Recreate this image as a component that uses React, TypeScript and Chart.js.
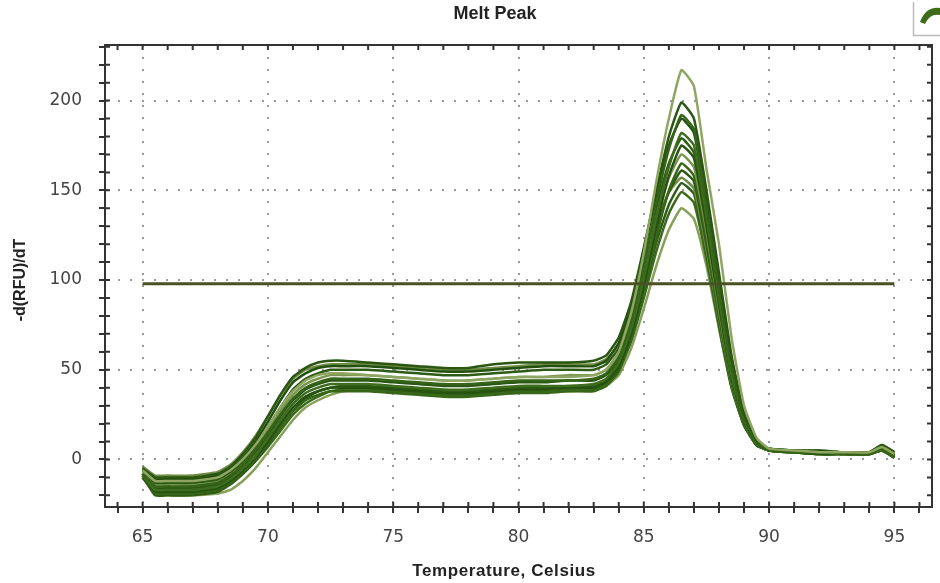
import React, { useEffect, useRef } from "react";
import { Chart, registerables } from "chart.js";

Chart.register(...registerables);

// Temperatures (°C) at which the melt-peak curves are sampled
const temperatures = [65, 65.5, 66, 67, 68, 68.5, 69, 69.5, 70, 70.5, 71, 71.5, 72, 72.5, 73, 74, 75, 76, 77, 78, 79, 80, 81, 82, 83, 83.5, 84, 84.5, 85, 85.5, 86, 86.5, 87, 87.5, 88, 88.5, 89, 89.5, 90, 91, 92, 93, 94, 94.5, 95];

// -d(RFU)/dT for each well
const wellA = [-6, -12, -12, -12, -10, -6, 0, 8, 18, 29, 38, 44, 47, 48, 48, 47, 46, 45, 44, 44, 45, 46, 46, 46, 47, 50, 60, 82, 115, 155, 190, 217, 208, 162, 120, 68, 30, 12, 6, 5, 4, 4, 4, 7, 3];
const wellB = [-5, -10, -10, -10, -8, -4, 3, 12, 24, 36, 46, 51, 54, 55, 55, 54, 53, 52, 51, 51, 53, 54, 54, 54, 55, 58, 68, 88, 118, 150, 180, 199, 190, 150, 104, 58, 26, 11, 6, 5, 5, 4, 4, 8, 4];
const wellC = [-8, -15, -15, -15, -13, -9, -3, 5, 15, 25, 34, 40, 43, 45, 45, 45, 44, 43, 42, 42, 43, 44, 44, 44, 45, 48, 57, 77, 107, 143, 173, 192, 184, 142, 96, 52, 23, 9, 5, 4, 4, 3, 3, 6, 2];
const wellD = [-5, -11, -11, -11, -9, -5, 1, 10, 21, 33, 43, 48, 51, 52, 52, 52, 51, 50, 49, 49, 50, 51, 52, 52, 52, 55, 65, 86, 115, 148, 175, 190, 182, 143, 97, 53, 24, 10, 6, 5, 4, 4, 4, 7, 3];
const wellE = [-9, -17, -17, -17, -15, -11, -5, 2, 12, 22, 31, 37, 40, 42, 42, 42, 41, 40, 39, 39, 40, 41, 41, 41, 42, 45, 54, 73, 101, 135, 163, 182, 175, 136, 90, 47, 22, 9, 5, 4, 4, 3, 3, 6, 2];
const wellF = [-6, -13, -13, -13, -11, -7, -1, 7, 18, 29, 39, 45, 48, 50, 50, 50, 49, 48, 47, 47, 48, 49, 50, 50, 50, 53, 62, 82, 110, 140, 165, 179, 171, 135, 91, 49, 22, 9, 6, 5, 4, 4, 4, 7, 3];
const wellG = [-10, -18, -18, -18, -16, -12, -6, 1, 10, 20, 29, 35, 38, 40, 40, 40, 39, 38, 37, 37, 38, 39, 39, 40, 40, 43, 51, 70, 97, 130, 158, 175, 168, 130, 86, 45, 21, 9, 5, 4, 3, 3, 3, 6, 2];
const wellH = [-7, -14, -14, -14, -12, -8, -2, 6, 16, 27, 36, 42, 45, 47, 47, 47, 46, 45, 44, 44, 45, 46, 46, 47, 47, 50, 59, 78, 105, 134, 157, 170, 163, 127, 84, 45, 21, 9, 5, 4, 4, 3, 3, 6, 2];
const wellI = [-10, -19, -19, -19, -17, -13, -7, 0, 9, 18, 27, 33, 36, 38, 38, 38, 37, 36, 35, 35, 36, 37, 37, 38, 38, 41, 49, 67, 93, 124, 150, 165, 158, 123, 81, 43, 20, 8, 5, 4, 3, 3, 3, 5, 1];
const wellJ = [-8, -16, -16, -16, -14, -10, -4, 4, 13, 24, 33, 39, 42, 44, 44, 44, 43, 42, 41, 41, 42, 43, 43, 44, 44, 47, 55, 73, 99, 128, 149, 161, 155, 120, 80, 43, 20, 8, 5, 4, 4, 3, 3, 6, 2];
const wellK = [-4, -9, -9, -9, -7, -3, 4, 13, 24, 36, 45, 50, 52, 53, 53, 53, 52, 51, 50, 50, 51, 52, 53, 53, 53, 56, 64, 82, 106, 132, 149, 157, 151, 117, 78, 42, 20, 9, 6, 5, 5, 4, 4, 8, 4];
const wellL = [-9, -20, -20, -20, -18, -14, -8, -1, 8, 18, 27, 34, 38, 40, 41, 41, 40, 39, 38, 38, 39, 40, 40, 41, 41, 44, 52, 69, 94, 121, 142, 154, 148, 115, 76, 41, 19, 8, 5, 4, 3, 3, 3, 5, 1];
const wellM = [-8, -17, -17, -17, -16, -13, -8, -1, 7, 16, 25, 31, 35, 38, 39, 39, 38, 37, 36, 36, 37, 38, 38, 39, 39, 42, 50, 66, 90, 116, 137, 149, 143, 112, 74, 40, 19, 8, 5, 4, 3, 3, 3, 5, 1];
const wellN = [-8, -19, -20, -20, -19, -17, -12, -5, 4, 13, 22, 29, 33, 36, 38, 39, 39, 38, 37, 36, 37, 38, 38, 38, 39, 41, 47, 62, 84, 108, 128, 140, 134, 108, 73, 40, 19, 8, 5, 4, 3, 3, 3, 5, 1];

const wells = [wellA, wellB, wellC, wellD, wellE, wellF, wellG, wellH, wellI, wellJ, wellK, wellL, wellM, wellN];
const wellColors = ["#8fa663", "#2a5512", "#356418", "#24500f", "#3f6d1f", "#2d5a14", "#275311", "#7a9650", "#386619", "#2a5713", "#6f8c45", "#2e5c15", "#3b6a1c", "#86a05a"];

// Threshold line
const thresholdValue = 98;
const thresholdStart = 65;
const thresholdEnd = 95;

// Axes
const xMin = 63.5;
const xMax = 96.5;
const yMin = -26.5;
const yMax = 231;
const xTickValues = [64, 65, 66, 67, 68, 69, 70, 71, 72, 73, 74, 75, 76, 77, 78, 79, 80, 81, 82, 83, 84, 85, 86, 87, 88, 89, 90, 91, 92, 93, 94, 95, 96];
const yTickValues = [-20, -10, 0, 10, 20, 30, 40, 50, 60, 70, 80, 90, 100, 110, 120, 130, 140, 150, 160, 170, 180, 190, 200, 210, 220, 230];
const xLabelTicks = [65, 70, 75, 80, 85, 90, 95];
const yLabelTicks = [0, 50, 100, 150, 200];

const chartTitle = "Melt Peak";
const xAxisTitle = "Temperature, Celsius";
const yAxisTitle = "-d(RFU)/dT";

const decorPlugin = {
  id: "meltDecor",
  afterDraw(chart: any) {
    const { ctx, chartArea } = chart;
    const { left, right, top, bottom } = chartArea;
    const xs = chart.scales.x;
    const ys = chart.scales.y;
    ctx.save();
    // frame
    ctx.strokeStyle = "#333";
    ctx.lineWidth = 2;
    ctx.strokeRect(left, top, right - left, bottom - top);
    // inner tick marks
    xs.ticks.forEach((t: any) => {
      const px = xs.getPixelForValue(t.value);
      ctx.beginPath();
      ctx.moveTo(px, bottom - 5);
      ctx.lineTo(px, bottom);
      ctx.moveTo(px, top);
      ctx.lineTo(px, top + 5);
      ctx.stroke();
    });
    ys.ticks.forEach((t: any) => {
      const py = ys.getPixelForValue(t.value);
      ctx.beginPath();
      ctx.moveTo(left, py);
      ctx.lineTo(left + 5, py);
      ctx.moveTo(right - 5, py);
      ctx.lineTo(right, py);
      ctx.stroke();
    });
    // title & axis titles
    ctx.fillStyle = "#222";
    ctx.textAlign = "center";
    ctx.textBaseline = "middle";
    ctx.font = 'bold 18px "Liberation Sans", Arial, sans-serif';
    ctx.fillText(chartTitle, 495, 14);
    ctx.font = 'bold 17px "Liberation Sans", Arial, sans-serif';
    (ctx as any).letterSpacing = "0.6px";
    ctx.fillText(xAxisTitle, 504, 571);
    (ctx as any).letterSpacing = "0px";
    ctx.font = 'bold 16px "Liberation Sans", Arial, sans-serif';
    ctx.save();
    ctx.translate(21, 280);
    ctx.rotate(-Math.PI / 2);
    ctx.fillText(yAxisTitle, 0, 0);
    ctx.restore();
    // small corner button
    ctx.strokeStyle = "#bbb";
    ctx.lineWidth = 1.5;
    ctx.beginPath();
    ctx.moveTo(913.5, 2);
    ctx.lineTo(913.5, 35.5);
    ctx.lineTo(940, 35.5);
    ctx.stroke();
    ctx.fillStyle = "#3d6b1a";
    ctx.beginPath();
    ctx.moveTo(920, 22);
    ctx.quadraticCurveTo(926, 6, 940, 8);
    ctx.lineTo(940, 15);
    ctx.quadraticCurveTo(930, 13, 925, 24);
    ctx.closePath();
    ctx.fill();
    ctx.restore();
  },
};

export default function App() {
  const canvasRef = useRef<HTMLCanvasElement | null>(null);

  useEffect(() => {
    if (!canvasRef.current) return;
    const datasets: any[] = [
      {
        label: "Threshold",
        data: [
          { x: thresholdStart, y: thresholdValue },
          { x: thresholdEnd, y: thresholdValue },
        ],
        borderColor: "#4a5224",
        borderWidth: 3,
        pointRadius: 0,
        order: -1,
      },
    ];
    wells.forEach((w, i) => {
      datasets.push({
        label: "Well " + (i + 1),
        data: temperatures.map((t, j) => ({ x: t, y: w[j] })),
        borderColor: wellColors[i],
        borderWidth: 2.5,
        pointRadius: 0,
        tension: 0.15,
        order: 0,
      });
    });

    const chart = new Chart(canvasRef.current, {
      type: "line",
      data: { datasets },
      options: {
        animation: false,
        responsive: false,
        devicePixelRatio: 1,
        layout: { padding: { left: 0, right: 8, top: 45, bottom: 0 } },
        plugins: {
          legend: { display: false },
          tooltip: { enabled: false },
          title: { display: false },
        },
        scales: {
          x: {
            type: "linear",
            min: xMin,
            max: xMax,
            afterBuildTicks: (s: any) => {
              s.ticks = xTickValues.map((v) => ({ value: v }));
            },
            afterFit: (s: any) => {
              s.height = 76;
            },
            ticks: {
              autoSkip: false,
              maxRotation: 0,
              minRotation: 0,
              padding: 14,
              color: "#444",
              font: { family: '"DejaVu Sans", sans-serif', size: 17 },
              callback: (v: any) => (xLabelTicks.includes(Number(v)) ? String(v) : ""),
            },
            grid: {
              color: (c: any) => (c.tick && xLabelTicks.includes(c.tick.value) ? "#9a9a9a" : "rgba(0,0,0,0)"),
              lineWidth: 2,
              tickColor: "#333",
              tickLength: 6,
              tickWidth: 2,
            },
            border: { display: true, color: "#333", width: 2, dash: [2, 10] },
          },
          y: {
            type: "linear",
            min: yMin,
            max: yMax,
            afterBuildTicks: (s: any) => {
              s.ticks = yTickValues.map((v) => ({ value: v }));
            },
            afterFit: (s: any) => {
              s.width = 105;
            },
            ticks: {
              autoSkip: false,
              padding: 17,
              color: "#444",
              font: { family: '"DejaVu Sans", sans-serif', size: 17 },
              callback: (v: any) => (yLabelTicks.includes(Number(v)) ? String(v) : ""),
            },
            grid: {
              color: (c: any) => (c.tick && yLabelTicks.includes(c.tick.value) ? "#9a9a9a" : "rgba(0,0,0,0)"),
              lineWidth: 2,
              tickColor: "#333",
              tickLength: 6,
              tickWidth: 2,
            },
            border: { display: true, color: "#333", width: 2, dash: [2, 10] },
          },
        },
      },
      plugins: [decorPlugin],
    });
    return () => chart.destroy();
  }, []);

  return (
    <div style={{ position: "absolute", left: 0, top: 0, width: 940, height: 583, background: "#fff" }}>
      <canvas ref={canvasRef} width={940} height={583} style={{ display: "block" }} />
    </div>
  );
}
